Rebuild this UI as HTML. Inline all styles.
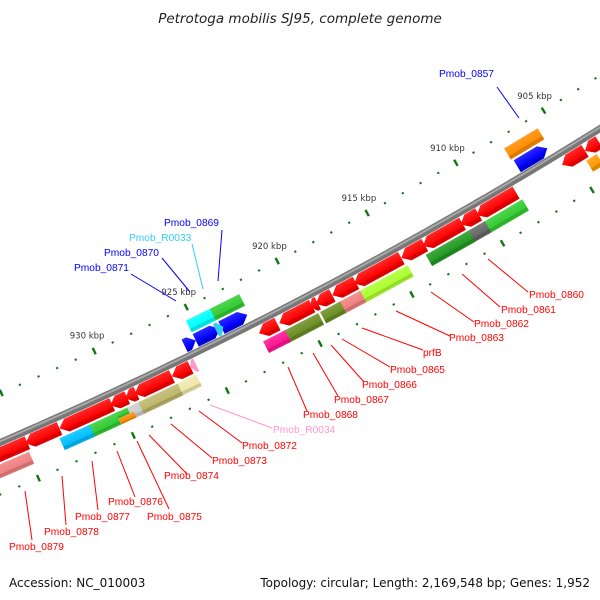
<!DOCTYPE html>
<html><head><meta charset="utf-8"><style>
html,body{margin:0;padding:0;background:#fff;}
svg{display:block;font-family:"DejaVu Sans","Liberation Sans",sans-serif;}
</style></head><body>
<svg id="map" width="600" height="600" viewBox="0 0 600 600">
<defs>
<linearGradient id="gRed" x1="0" y1="0" x2="0" y2="1"><stop offset="0" stop-color="#ff2a2a"/><stop offset="0.7" stop-color="#ff0000"/><stop offset="0.72" stop-color="#d00000"/><stop offset="1" stop-color="#e60000"/></linearGradient>
<linearGradient id="gBlue" x1="0" y1="0" x2="0" y2="1"><stop offset="0" stop-color="#2a2aff"/><stop offset="0.7" stop-color="#0000ff"/><stop offset="0.72" stop-color="#0000c8"/><stop offset="1" stop-color="#0000e0"/></linearGradient>
<linearGradient id="gShade" x1="0" y1="0" x2="0" y2="1"><stop offset="0" stop-color="#fff" stop-opacity="0.15"/><stop offset="0.7" stop-color="#fff" stop-opacity="0"/><stop offset="0.72" stop-color="#000" stop-opacity="0.18"/><stop offset="1" stop-color="#000" stop-opacity="0.08"/></linearGradient>
</defs>
<text x="300" y="23" text-anchor="middle" font-size="13.5" font-style="italic" fill="#222">Petrotoga mobilis SJ95, complete genome</text>
<g id="ticks"></g>
<g id="backbone"></g>
<g id="genes"></g>
<g id="labels"></g>
<text x="9" y="587" font-size="12" fill="#111">Accession: NC_010003</text>
<text x="590" y="587" text-anchor="end" font-size="12" fill="#111">Topology: circular; Length: 2,169,548 bp; Genes: 1,952</text>
</svg>
<script>
// ---- data (kbp positions) ----
const tickKbp = [905, 910, 915, 920, 925, 930];
const tickLabels = ["905 kbp", "910 kbp", "915 kbp", "920 kbp", "925 kbp", "930 kbp"];
const minorStartKbp = 900;
const minorEndKbp = 940;
// reverse-strand genes (red arrows)
const redStart = [903.5, 904.3, 908.2, 910.3, 911.2, 913.3, 914.6, 917.1, 918.4, 919.2, 919.5, 921.4, 926.1, 927.1, 929.0, 929.5, 930.3, 931.4, 933.1, 934.8];
const redEnd   = [904.3, 905.6, 910.4, 911.3, 913.4, 914.6, 917.2, 918.4, 919.3, 919.6, 921.3, 922.4, 927.1, 929.1, 929.6, 930.4, 931.8, 933.1, 934.9, 936.8];
// forward-strand genes (blue arrows)
const blueStart = [905.8, 922.5, 924.0, 925.3];
const blueEnd   = [907.5, 923.9, 925.3, 925.9];
// small RNA genes
const rnaStart = [923.8, 925.8];
const rnaEnd   = [924.2, 926.1];
const rnaColor = ["#33ccff", "#ff99cc"];
const rnaSide  = [-1, 1];
// COG category boxes, lower (reverse) row
const cogLoStart = [903.9, 908.1, 910.2, 911.1, 914.5, 917.1, 918.2, 919.4, 921.2, 926.0, 927.0, 929.1, 929.7, 929.5, 930.3, 931.7, 934.9];
const cogLoEnd   = [904.5, 910.4, 911.4, 913.5, 917.3, 918.5, 919.3, 921.4, 922.4, 927.2, 929.3, 929.7, 930.5, 930.3, 931.9, 933.3, 937.2];
const cogLoColor = ["#ff9900", "#33cc33", "#666666", "#229922", "#adff2f", "#f08080", "#6b8e23", "#6b8e23", "#ff1493", "#eee8aa", "#bdb76b", "#cccccc", "#33cc33", "#ff8c00", "#33cc33", "#00bfff", "#f08080"];
const cogLoSub   = [0, 0, 0, 0, 0, 0, 0, 0, 0, 0, 0, 0, 1, 2, 0, 0, 0];
// COG boxes, upper (forward) row
const cogUpStart = [905.7, 922.4, 924.0];
const cogUpEnd   = [907.6, 924.0, 925.3];
const cogUpColor = ["#ff8c00", "#33cc33", "#00ffff"];

// ---- geometry ----
const R = 4500, K0 = 920, PX = 20.6, T0 = -27.5 * Math.PI / 180;
const P0 = [298, 301];
const C = [P0[0] + R * Math.sin(T0), P0[1] - R * Math.cos(T0)];
function phiOf(k){ return T0 + Math.PI/2 - (K0 - k) * PX / R; }
function pt(k, d){ const p = phiOf(k); return [C[0] + (R + d) * Math.cos(p), C[1] + (R + d) * Math.sin(p)]; }
function rotDeg(k){ return phiOf(k) * 180 / Math.PI - 90; }
const NS = "http://www.w3.org/2000/svg";
function mk(tag, attrs, parent){ const e = document.createElementNS(NS, tag); for (const a in attrs) e.setAttribute(a, attrs[a]); parent.appendChild(e); return e; }
function frame(k1, k2, parent){
  const km = (k1 + k2) / 2, p = pt(km, 0);
  const g = mk("g", {transform: "translate(" + p[0].toFixed(2) + "," + p[1].toFixed(2) + ") rotate(" + rotDeg(km).toFixed(3) + ")"}, parent);
  const w = Math.abs(k2 - k1) * PX;
  return [g, w];
}

// backbone
const bb = document.getElementById("backbone");
let pts = [];
for (let k = 945; k >= 895; k -= 0.5){ const p = pt(k, 0); pts.push(p[0].toFixed(1) + "," + p[1].toFixed(1)); }
const bbl = mk("polyline", {points: pts.join(" "), fill: "none", stroke: "#777777", "stroke-width": 7}, bb);


const bbh = mk("polyline", {points: pts.join(" "), fill: "none", stroke: "#a8a8a8", "stroke-width": 2, transform: "translate(-0.5,-1)"}, bb);



// ticks
const tg = document.getElementById("ticks");
for (let k = minorStartKbp; k <= minorEndKbp; k++){
  const major = tickKbp.indexOf(k) >= 0 || k % 5 === 0;
  [-45, 48].forEach(function(d){
    const half = major ? 3.5 : 1;
    const a = pt(k, d - half), b = pt(k, d + half);
    const l = mk("line", {x1: a[0], y1: a[1], x2: b[0], y2: b[1], stroke: "#117711", "stroke-width": major ? 2.4 : 2.2}, tg);
    
    
  });
}
tickKbp.forEach(function(k, i){
  const p = pt(k, -62);
  const t = mk("text", {x: p[0].toFixed(1), y: (p[1] + 3).toFixed(1), "text-anchor": "middle", "font-size": "8.5", fill: "#333"}, tg);
  t.textContent = tickLabels[i];
  
  
});

const gg = document.getElementById("genes");
function arrow(k1, k2, d1, d2, fill, left, name){
  const f = frame(k1, k2, gg), g = f[0], w = f[1];
  const x0 = -w/2, x1 = w/2, hl = Math.min(8, w * 0.6);
  const ym = (d1 + d2) / 2;
  let poly;
  if (left) poly = [[x0, ym], [x0 + hl, d1], [x1, d1], [x1, d2], [x0 + hl, d2]];
  else poly = [[x1, ym], [x1 - hl, d1], [x0, d1], [x0, d2], [x1 - hl, d2]];
  const s = poly.map(function(q){ return q[0].toFixed(2) + "," + q[1].toFixed(2); }).join(" ");
  const e = mk("polygon", {points: s, fill: fill}, g);
  
  
}
function box(k1, k2, d1, d2, color, name){
  const f = frame(k1, k2, gg), g = f[0], w = f[1];
  const e = mk("rect", {x: -w/2, y: d1, width: w, height: d2 - d1, fill: color}, g);
  
  
  const s = mk("rect", {x: -w/2, y: d1, width: w, height: d2 - d1, fill: "url(#gShade)"}, g);
  
  
}
for (let i = 0; i < redStart.length; i++) arrow(redStart[i], redEnd[i], 4, 18, "url(#gRed)", true, "reverse-gene");
for (let i = 0; i < blueStart.length; i++) arrow(blueStart[i], blueEnd[i], -18, -4, "url(#gBlue)", false, "forward-gene");
for (let i = 0; i < rnaStart.length; i++){
  if (rnaSide[i] > 0) arrow(rnaStart[i], rnaEnd[i], 4, 18, rnaColor[i], true, "rna-gene");
  else arrow(rnaStart[i], rnaEnd[i], -18, -4, rnaColor[i], false, "rna-gene");
}
for (let i = 0; i < cogLoStart.length; i++){
  let d1 = 20, d2 = 33;
  if (cogLoSub[i] === 1){ d1 = 20; d2 = 26.5; }
  if (cogLoSub[i] === 2){ d1 = 26.5; d2 = 33; }
  box(cogLoStart[i], cogLoEnd[i], d1, d2, cogLoColor[i], "cog-box-reverse");
}
for (let i = 0; i < cogUpStart.length; i++) box(cogUpStart[i], cogUpEnd[i], -33, -20, cogUpColor[i], "cog-box-forward");

// labels
const labelText = ["Pmob_0857","Pmob_0869","Pmob_R0033","Pmob_0870","Pmob_0871","Pmob_0860","Pmob_0861","Pmob_0862","Pmob_0863","prfB","Pmob_0865","Pmob_0866","Pmob_0867","Pmob_0868","Pmob_R0034","Pmob_0872","Pmob_0873","Pmob_0874","Pmob_0876","Pmob_0875","Pmob_0877","Pmob_0878","Pmob_0879"];
const labelColor = ["#0000ff","#0000ff","#33ccff","#0000ff","#0000ff","#ff0000","#ff0000","#ff0000","#ff0000","#ff0000","#ff0000","#ff0000","#ff0000","#ff0000","#ff99cc","#ff0000","#ff0000","#ff0000","#ff0000","#ff0000","#ff0000","#ff0000","#ff0000"];
const lx = [439,164,129,104,74,529,501,474,449,423,390,362,334,303,273,242,212,164,108,147,75,44,9];
const ly = [77,226,241,256,271,298,313,327,341,356,373,388,403,418,433,449,464,479,505,520,520,535,550];
const la = [[497,87,519,118],[222,230,218,281],[192,244,203,289],[162,258,190,292],[131,274,176,301],[528,292,488,259],[500,307,462,274],[474,322,431,292],[450,336,396,311],[423,350,362,328],[390,367,342,339],[364,382,331,345],[338,396,313,353],[307,411,288,367],[272,428,210,405],[242,443,199,411],[212,458,171,424],[187,474,149,435],[135,497,117,451],[169,509,137,441],[98,510,92,461],[66,525,62,476],[32,540,25,491]];
const lg = document.getElementById("labels");
for (let i = 0; i < labelText.length; i++){
  const l = mk("line", {x1: la[i][0], y1: la[i][1], x2: la[i][2], y2: la[i][3], stroke: labelColor[i], "stroke-width": 1}, lg);
  
  
  const t = mk("text", {x: lx[i], y: ly[i], "font-size": "10.2", "font-family": "Liberation Sans, sans-serif", fill: labelColor[i]}, lg);
  t.textContent = labelText[i];
  
  
}
</script>
</body></html>
